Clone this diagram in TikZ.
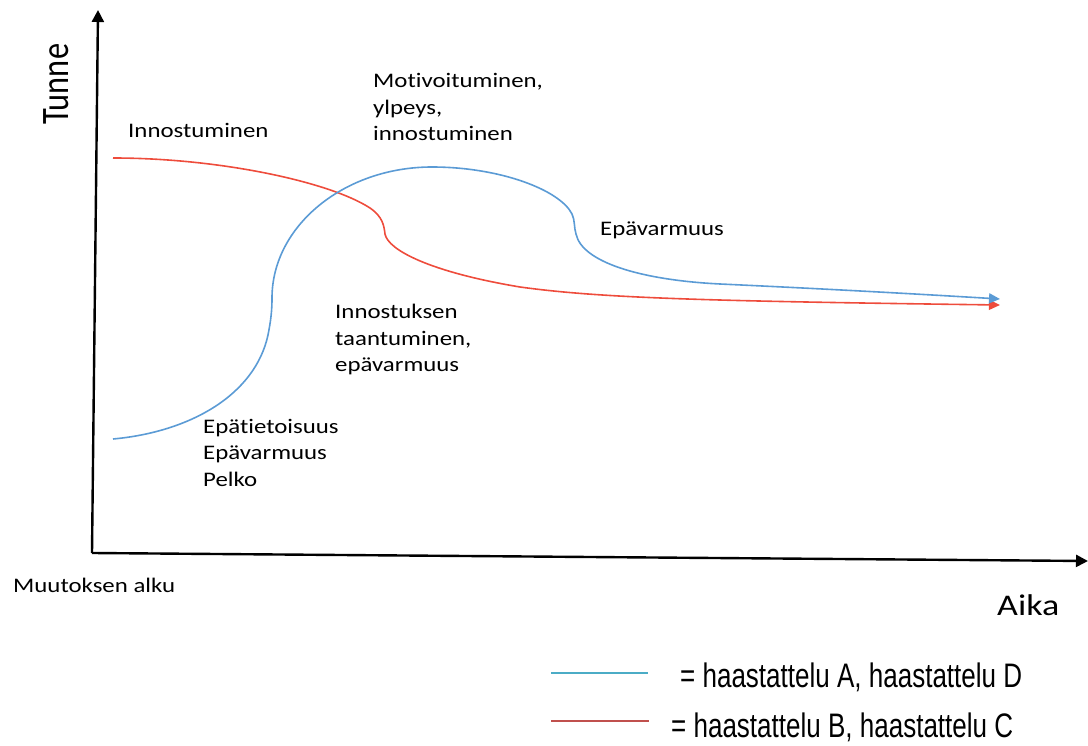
\documentclass[tikz,border=0pt]{standalone}
\usepackage{fontspec}
\setmainfont{Carlito}[FakeStretch=1.2, Ligatures={NoCommon}, Contextuals={NoAlternate}]
\newfontfamily\plainf{Carlito}[Ligatures={NoCommon}]
\newfontfamily\arialf{Liberation Sans}[FakeStretch=0.765]
\usetikzlibrary{arrows.meta}
\definecolor{curvered}{RGB}{238,76,60}
\definecolor{curveblue}{HTML}{5B9BD5}
\definecolor{legblue}{HTML}{4BACC6}
\definecolor{legred}{HTML}{C0504D}
\tikzset{
  axisline/.style={line width=2.4pt, black, -{Triangle[length=12pt,width=12pt]}},
  curve/.style={line width=1.6pt, -{Triangle[length=11pt,width=10pt]}},
  lbl/.style={font=\fontsize{20.7}{26.5}\selectfont, inner sep=0pt, anchor=base west},
  legtext/.style={font=\arialf\fontsize{34}{40}\selectfont, inner sep=0pt, anchor=base west},
  legline/.style={line width=1.8pt}
}
\begin{document}
\begin{tikzpicture}[x=1pt,y=-1pt]
\useasboundingbox (0,0) rectangle (1088,746);
% axes
\coordinate (origin) at (92,553);
\coordinate (ytip) at (98,10);
\coordinate (xtip) at (1088,561);
\draw[axisline] (origin) -- (ytip);
\draw[axisline] (origin) -- (xtip);
\node[inner sep=0pt, anchor=base west, rotate=90, font=\plainf\fontsize{32.4}{36}\selectfont] (tunne) at (68,125) {\scalebox{1}[1.2]{Tunne}};
\node[inner sep=0pt, anchor=base west, font=\fontsize{30}{34}\selectfont] (aika) at (997,615) {Aika};
\node[lbl] (alku) at (13,592) {Muutoksen alku};
% red curve
\coordinate (rs) at (113,158);
\coordinate (re) at (1000,305);
\draw[curve, curvered] (rs) .. controls (220,158) and (330,182) .. (370,208)
  .. controls (383,217) and (384,226) .. (385,234)
  .. controls (388,250) and (430,272) .. (520,287)
  .. controls (600,298) and (700,301) .. (re);
% blue curve
\coordinate (bs) at (113,439);
\coordinate (be) at (1000,299);
\draw[curve, curveblue] (bs) .. controls (190,432) and (255,395) .. (268,335)
  .. controls (271,320) and (272,310) .. (272,298)
  .. controls (272,226) and (344,167) .. (432,167)
  .. controls (500,167) and (560,190) .. (572,214)
  .. controls (575,220) and (574,228) .. (576,234)
  .. controls (582,262) and (640,280) .. (720,284)
  .. controls (850,290) and (950,296) .. (be);
% labels
\node[lbl] (inno) at (128,138) {Innostuminen};
\node[lbl] (moti) at (373,88) {\vtop{\hbox{Motivoituminen,}\hbox{ylpeys,}\hbox{innostuminen}}};
\node[lbl] (epav) at (600,236) {Epävarmuus};
\node[lbl] (taan) at (335,319) {\vtop{\hbox{Innostuksen}\hbox{taantuminen,}\hbox{epävarmuus}}};
\node[lbl] (epat) at (203,433) {\vtop{\hbox{Epätietoisuus}\hbox{Epävarmuus}\hbox{Pelko}}};
% legend
\coordinate (lb1) at (551,673);
\coordinate (lb2) at (648,673);
\coordinate (lr1) at (551,721);
\coordinate (lr2) at (649,721);
\draw[legline, legblue] (lb1) -- (lb2);
\draw[legline, legred] (lr1) -- (lr2);
\node[legtext] (legA) at (680,687) {= haastattelu A, haastattelu D};
\node[legtext] (legB) at (671,737) {= haastattelu B, haastattelu C};
\end{tikzpicture}
\end{document}
